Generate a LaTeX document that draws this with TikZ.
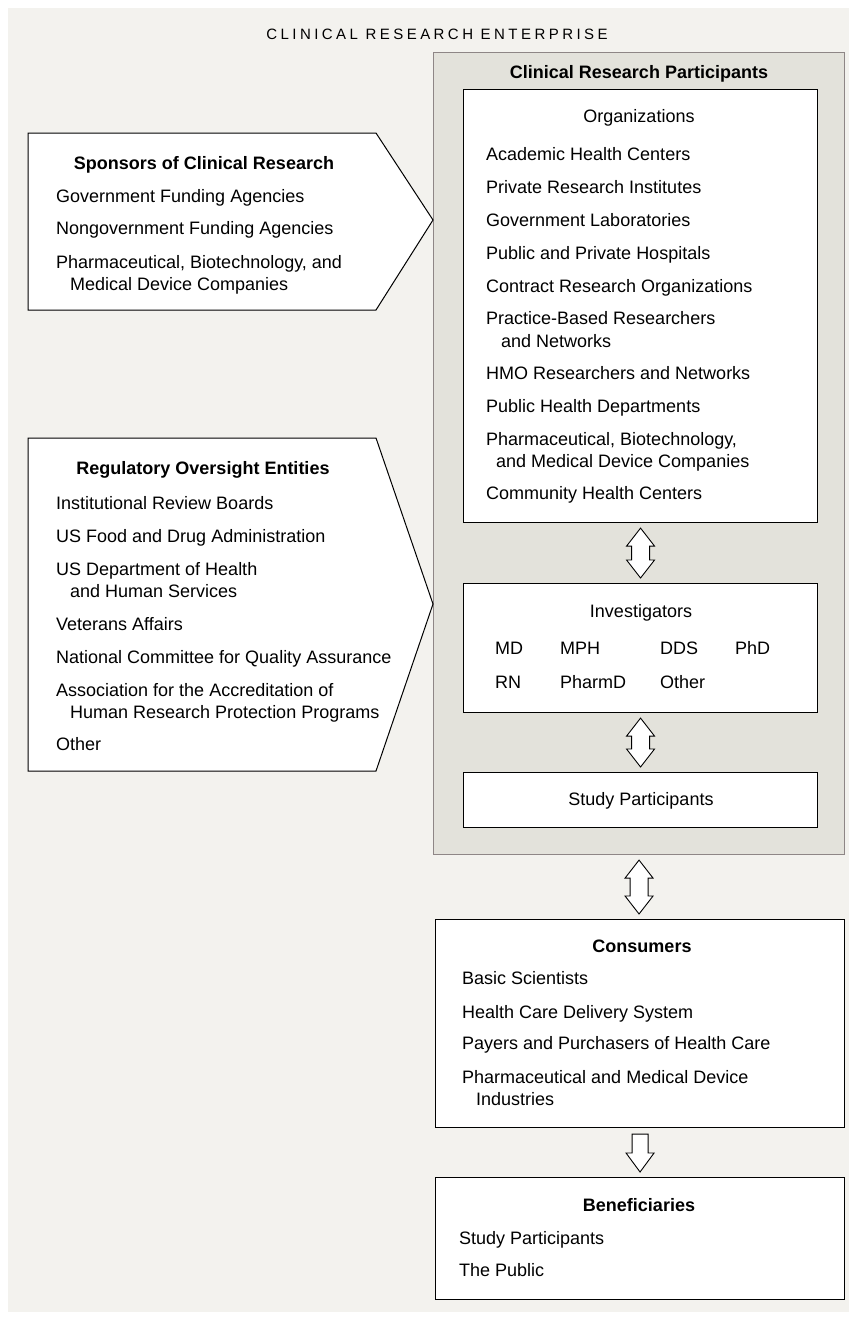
\documentclass[tikz,border=0pt]{standalone}
\usepackage{fontspec}
\setmainfont{Liberation Sans}
\usetikzlibrary{calc}
\definecolor{bgc}{HTML}{F3F2EE}
\definecolor{panelc}{HTML}{E3E2DB}
\definecolor{panelline}{HTML}{8E8686}
\tikzset{
  txt/.style={font=\fontsize{18}{22}\selectfont, inner sep=0pt, anchor=base west},
  ttl/.style={font=\fontsize{18}{22}\selectfont\bfseries, inner sep=0pt, anchor=base},
  hdr/.style={font=\fontsize{18}{22}\selectfont, inner sep=0pt, anchor=base},
  box/.style={draw=black, line width=1.1pt, fill=white, anchor=north west, inner sep=0pt},
  panelbox/.style={draw=panelline, line width=1.1pt, fill=panelc, anchor=north west, inner sep=0pt},
  penta/.style={draw=black, line width=1pt, fill=white, line join=miter},
  arr/.style={draw=black, line width=0.9pt, fill=white, line join=miter},
}
\newcommand{\dblarr}[2]{%
  \draw[arr] ($(#1.south)+(0,5)$) -- ++(14,18) -- ++(-5,0)
    -- ($(#1.south |- #2.north)+(9,-23)$) -- ++(5,0) -- ($(#1.south |- #2.north)+(0,-5)$)
    -- ++(-14,-18) -- ++(5,0) -- ($(#1.south)+(-9,23)$) -- ++(-5,0) -- cycle;}
\begin{document}
\begin{tikzpicture}[x=1pt,y=-1pt]
\useasboundingbox (0,0) rectangle (855,1318);
\fill[bgc] (8,8) rectangle (849,1312);

% title
\node[font=\fontsize{15}{18}\selectfont\addfontfeatures{LetterSpace=23}, anchor=base, inner sep=0pt] (title) at (437,39) {CLINICAL RESEARCH ENTERPRISE};

% participants panel
\node[panelbox, minimum width=411pt, minimum height=802pt] (panel) at (433,52) {};
\node[ttl] (crp) at (639,78) {Clinical Research Participants};

% organizations
\node[box, minimum width=354pt, minimum height=433pt] (org) at (463,89) {};
\node[hdr] (orgt) at (639,122) {Organizations};
\node[txt] (o1) at (486,160) {Academic Health Centers};
\node[txt] (o2) at (486,193) {Private Research Institutes};
\node[txt] (o3) at (486,226) {Government Laboratories};
\node[txt] (o4) at (486,259) {Public and Private Hospitals};
\node[txt] (o5) at (486,292) {Contract Research Organizations};
\node[txt] (o6) at (486,324) {Practice-Based Researchers};
\node[txt] (o6b) at (501,347) {and Networks};
\node[txt] (o7) at (486,379) {HMO Researchers and Networks};
\node[txt] (o8) at (486,412) {Public Health Departments};
\node[txt] (o9) at (486,445) {Pharmaceutical, Biotechnology,};
\node[txt] (o9b) at (496,467) {and Medical Device Companies};
\node[txt] (o10) at (486,499) {Community Health Centers};

% investigators
\node[box, minimum width=354pt, minimum height=129pt] (inv) at (463,583) {};
\node[hdr] (invt) at (641,617) {Investigators};
\node[txt] (i1) at (495,654) {MD};
\node[txt] (i2) at (560,654) {MPH};
\node[txt] (i3) at (660,654) {DDS};
\node[txt] (i4) at (735,654) {PhD};
\node[txt] (i5) at (495,688) {RN};
\node[txt] (i6) at (560,688) {PharmD};
\node[txt] (i7) at (660,688) {Other};

% study participants
\node[box, minimum width=354pt, minimum height=55pt] (study) at (463,772) {};
\node[hdr] (studyt) at (641,805) {Study Participants};

% consumers
\node[box, minimum width=409pt, minimum height=208pt] (cons) at (435,919) {};
\node[ttl] (const) at (642,952) {Consumers};
\node[txt] (c1) at (462,984) {Basic Scientists};
\node[txt] (c2) at (462,1018) {Health Care Delivery System};
\node[txt] (c3) at (462,1049) {Payers and Purchasers of Health Care};
\node[txt] (c4) at (462,1083) {Pharmaceutical and Medical Device};
\node[txt] (c4b) at (476,1105) {Industries};

% beneficiaries
\node[box, minimum width=409pt, minimum height=122pt] (ben) at (435,1177) {};
\node[ttl] (bent) at (639,1211) {Beneficiaries};
\node[txt] (b1) at (459,1244) {Study Participants};
\node[txt] (b2) at (459,1276) {The Public};

% sponsors pentagon
\coordinate (sptip) at (433,220);
\draw[penta] (28,133) -- (376,133) -- (sptip) -- (376,310) -- (28,310) -- cycle;
\node[ttl] (spt) at (204,169) {Sponsors of Clinical Research};
\node[txt] (s1) at (56,202) {Government Funding Agencies};
\node[txt] (s2) at (56,234) {Nongovernment Funding Agencies};
\node[txt] (s3) at (56,268) {Pharmaceutical, Biotechnology, and};
\node[txt] (s3b) at (70,290) {Medical Device Companies};

% regulatory pentagon
\coordinate (rgtip) at (433,604);
\draw[penta] (28,438) -- (376,438) -- (rgtip) -- (376,771) -- (28,771) -- cycle;
\node[ttl] (rgt) at (203,474) {Regulatory Oversight Entities};
\node[txt] (r1) at (56,509) {Institutional Review Boards};
\node[txt] (r2) at (56,542) {US Food and Drug Administration};
\node[txt] (r3) at (56,575) {US Department of Health};
\node[txt] (r3b) at (70,597) {and Human Services};
\node[txt] (r4) at (56,630) {Veterans Affairs};
\node[txt] (r5) at (56,663) {National Committee for Quality Assurance};
\node[txt] (r6) at (56,696) {Association for the Accreditation of};
\node[txt] (r6b) at (70,718) {Human Research Protection Programs};
\node[txt] (r7) at (56,750) {Other};

% arrows
\dblarr{org}{inv}
\dblarr{inv}{study}
\dblarr{panel}{cons}
\draw[arr] ($(cons.south)+(-8,6)$) -- ($(ben.north)+(-8,-24)$) -- ++(-6,0)
  -- ($(ben.north)+(0,-5)$) -- ($(ben.north)+(14,-24)$) -- ++(-6,0)
  -- ($(cons.south)+(8,6)$) -- cycle;
\end{tikzpicture}
\end{document}
